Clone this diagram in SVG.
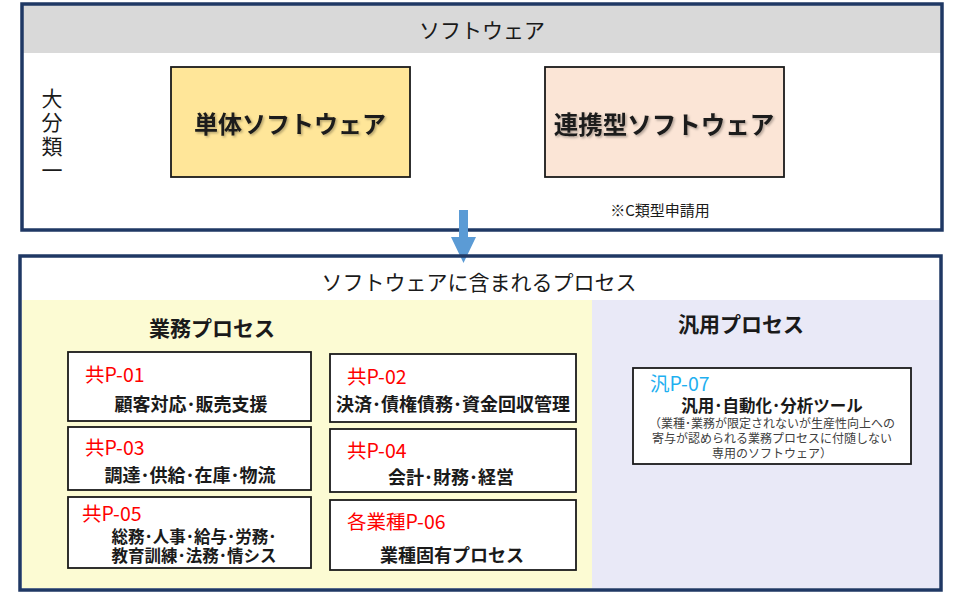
<svg xmlns="http://www.w3.org/2000/svg" width="955" height="600" viewBox="0 0 955 600">
<defs>
<style>
.frame{fill:none;stroke:#1f3864;stroke-width:3.5}
.box{fill:#ffffff;stroke:#1a1a1a;stroke-width:1.8}
.t{font-family:"Noto Sans CJK JP","Noto Sans",sans-serif;fill:#1a1a1a}
.code{font-family:"Noto Sans CJK JP","Noto Sans",sans-serif;fill:#ff0000;font-size:19.5px}
.lbl{font-family:"Noto Sans CJK JP","Noto Sans",sans-serif;fill:#1a1a1a;font-size:18px;font-weight:bold;text-anchor:middle}
.small{fill:#404040;font-size:12px;font-weight:normal}
</style>
<filter id="sh" x="-10%" y="-10%" width="120%" height="130%">
<feDropShadow dx="1.5" dy="1.5" stdDeviation="1" flood-color="#000" flood-opacity="0.3"/>
</filter>
</defs>
<rect width="955" height="600" fill="#ffffff"/>

<g id="software">
<rect x="23" y="5" width="918" height="48" fill="#d9d9d9"/>
<rect class="frame" x="22" y="4" width="920" height="226"/>
<text class="t" x="482" y="38" font-size="21" text-anchor="middle">ソフトウェア</text>
<text class="t" x="52" y="88" font-size="21" style="writing-mode:vertical-rl;letter-spacing:3px">大分類一</text>
<text class="t" x="660" y="216" font-size="15" text-anchor="middle">※C類型申請用</text>
</g>

<g id="tantai">
<rect x="171" y="67" width="239" height="110" fill="#ffe699" stroke="#1a1a1a" stroke-width="1.8"/>
<text class="t" x="290" y="133" font-size="24" font-weight="bold" text-anchor="middle" filter="url(#sh)">単体ソフトウェア</text>
</g>

<g id="renkei">
<rect x="545" y="67" width="239" height="110" fill="#fbe5d6" stroke="#1a1a1a" stroke-width="1.8"/>
<text class="t" x="664" y="134" font-size="24.5" font-weight="bold" text-anchor="middle" filter="url(#sh)">連携型ソフトウェア</text>
</g>

<g id="connectors">
<polygon points="459,210 468,210 468,237 476,237 463.5,263 451,237 459,237" fill="#5b9bd5"/>
</g>

<g id="process">
<rect x="22" y="300" width="570" height="288" fill="#fcfbd3"/>
<rect x="592" y="300" width="347" height="288" fill="#e9e9f7"/>
<rect class="frame" x="20" y="256" width="921" height="334"/>
<text class="t" x="479" y="290" font-size="21" text-anchor="middle">ソフトウェアに含まれるプロセス</text>
</g>

<g id="gyomu">
<text class="t" x="212" y="336" font-size="21" font-weight="bold" text-anchor="middle">業務プロセス</text>
</g>

<g id="p01">
<rect class="box" x="68" y="352" width="243" height="69"/>
<text class="code" x="85" y="382">共P-01</text>
<text class="lbl" x="191" y="411">顧客対応･販売支援</text>
</g>
<g id="p02">
<rect class="box" x="330" y="354" width="246" height="68"/>
<text class="code" x="347" y="384">共P-02</text>
<text class="lbl" x="453" y="411">決済･債権債務･資金回収管理</text>
</g>
<g id="p03">
<rect class="box" x="68" y="427" width="243" height="63"/>
<text class="code" x="85" y="455">共P-03</text>
<text class="lbl" x="190" y="482">調達･供給･在庫･物流</text>
</g>
<g id="p04">
<rect class="box" x="330" y="429" width="246" height="63"/>
<text class="code" x="347" y="458">共P-04</text>
<text class="lbl" x="451" y="484">会計･財務･経営</text>
</g>
<g id="p05">
<rect class="box" x="68" y="497" width="243" height="71"/>
<text class="code" x="82" y="521">共P-05</text>
<text class="lbl" style="font-size:16.5px"><tspan x="194" y="543">総務･人事･給与･労務･</tspan><tspan x="194" y="562">教育訓練･法務･情シス</tspan></text>
</g>
<g id="p06">
<rect class="box" x="330" y="500" width="246" height="70"/>
<text class="code" x="347" y="529">各業種P-06</text>
<text class="lbl" x="452" y="562">業種固有プロセス</text>
</g>

<g id="hanyo">
<text class="t" x="741" y="332" font-size="21" font-weight="bold" text-anchor="middle">汎用プロセス</text>
</g>
<g id="p07">
<rect class="box" x="633" y="368" width="278" height="96"/>
<text class="code" x="650" y="391" style="fill:#1fb0f0">汎P-07</text>
<text class="lbl" style="font-size:16.5px"><tspan x="772" y="412">汎用･自動化･分析ツール</tspan><tspan class="small" x="772" y="428">（業種･業務が限定されないが生産性向上への</tspan><tspan class="small" x="772" y="443">寄与が認められる業務プロセスに付随しない</tspan><tspan class="small" x="772" y="458">専用のソフトウェア）</tspan></text>
</g>
</svg>
